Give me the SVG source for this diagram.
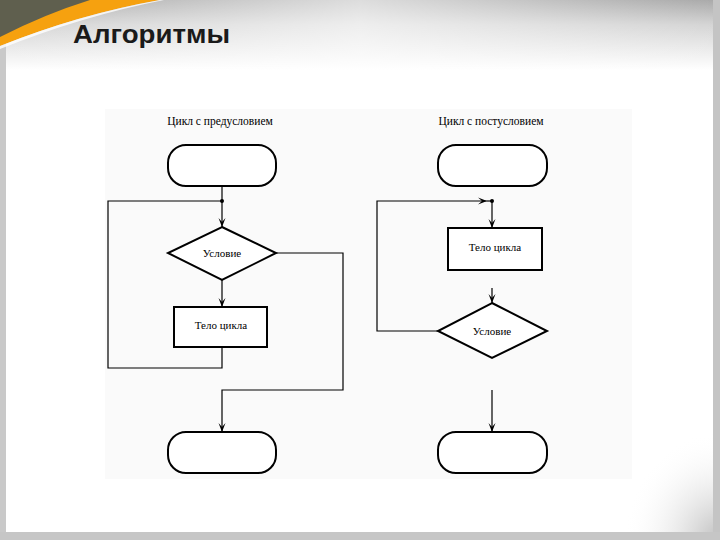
<svg xmlns="http://www.w3.org/2000/svg" width="720" height="540" viewBox="0 0 720 540">
<defs>
<linearGradient id="topg" x1="0" y1="0" x2="0" y2="1">
<stop offset="0" stop-color="#a9a9a9"/>
<stop offset="0.35" stop-color="#d4d4d4"/>
<stop offset="1" stop-color="#ffffff"/>
</linearGradient>
<linearGradient id="topfade" x1="0" y1="0" x2="1" y2="0">
<stop offset="0" stop-color="#ffffff" stop-opacity="0"/>
<stop offset="0.5" stop-color="#ffffff" stop-opacity="0.6"/>
<stop offset="1" stop-color="#ffffff" stop-opacity="0"/>
</linearGradient>
<radialGradient id="corner" cx="1" cy="1" r="1">
<stop offset="0" stop-color="#bdbdbd"/>
<stop offset="0.6" stop-color="#ffffff" stop-opacity="0"/>
</radialGradient>
<marker id="arr" viewBox="-10 -5 11 10" refX="0" refY="0" markerWidth="11" markerHeight="10" markerUnits="userSpaceOnUse" orient="auto">
<path d="M-9,-3.5 L0,0 L-9,3.5 L-5,0 Z" fill="#000"/>
</marker>
<style>
.shape{fill:#ffffff;stroke:#000;stroke-width:2}
.con{fill:none;stroke:#000;stroke-width:1.2}
.lbl{font-family:"Liberation Serif","Times New Roman",serif;font-size:11px;fill:#000;text-anchor:middle}
.ttl{font-family:"Liberation Serif","Times New Roman",serif;font-size:11.5px;fill:#000;text-anchor:middle}
</style>
</defs>
<!-- slide background -->
<rect x="0" y="0" width="720" height="540" fill="#ffffff"/>
<rect x="0" y="0" width="720" height="70" fill="url(#topg)"/>
<rect x="0" y="0" width="720" height="70" fill="url(#topfade)"/>
<rect x="560" y="360" width="160" height="180" fill="url(#corner)"/>
<rect x="0" y="0" width="6" height="540" fill="#c9c9c9"/>
<rect x="713" y="0" width="7" height="540" fill="#c4c4c4"/>
<rect x="0" y="532" width="720" height="8" fill="#c6c6c6"/>
<path d="M0,0 H160 Q80,14 0,46 Z" fill="#f6a10f"/>
<path d="M0,0 H90 Q45,14 0,37 Z" fill="#5f5f4e"/>
<path d="M0,46 Q80,14 160,0 L164,0 Q82,16 0,49 Z" fill="#ffffff" opacity="0.8"/>
<text x="73" y="43" font-family="Liberation Sans, Arial, sans-serif" font-weight="bold" font-size="25" textLength="157" lengthAdjust="spacingAndGlyphs" fill="#1a1a1a">Алгоритмы</text>
<!-- diagram panel -->
<rect x="105" y="109" width="527" height="370" fill="#fafafa"/>
<text class="ttl" x="220" y="125">Цикл с предусловием</text>
<text class="ttl" x="491" y="125">Цикл с постусловием</text>
<!-- connectors -->
<g id="connectors">
<path class="con" d="M222,187 V227" marker-end="url(#arr)"/>
<path class="con" d="M222,280 V307" marker-end="url(#arr)"/>
<path class="con" d="M222,347 V368 H108 V201 H222"/>
<path class="con" d="M276,253 H343 V390 H222 V432" marker-end="url(#arr)"/>
<circle cx="222" cy="201" r="2" fill="#000"/>
<path class="con" d="M438,331 H377 V201 H487" marker-end="url(#arr)"/>
<path class="con" d="M487,201 H492"/>
<circle cx="492" cy="201" r="2" fill="#000"/>
<path class="con" d="M492,201 V228" marker-end="url(#arr)"/>
<path class="con" d="M492,288 V303" marker-end="url(#arr)"/>
<path class="con" d="M492,390 V432" marker-end="url(#arr)"/>
</g>
<!-- left flowchart -->
<g id="start1"><rect class="shape" x="168" y="145" width="108" height="41" rx="18" ry="18"/></g>
<g id="cond1"><polygon class="shape" points="222,227 276,253 222,280 168,253"/><text class="lbl" x="222" y="257">Условие</text></g>
<g id="body1"><rect class="shape" x="174" y="307" width="93" height="40"/><text class="lbl" x="221" y="329">Тело цикла</text></g>
<g id="end1"><rect class="shape" x="168" y="432" width="108" height="41" rx="18" ry="18"/></g>
<!-- right flowchart -->
<g id="start2"><rect class="shape" x="438" y="145" width="109" height="41" rx="18" ry="18"/></g>
<g id="body2"><rect class="shape" x="448" y="228" width="94" height="42"/><text class="lbl" x="495" y="251">Тело цикла</text></g>
<g id="cond2"><polygon class="shape" points="492,303 547,331 492,358 438,331"/><text class="lbl" x="492" y="335">Условие</text></g>
<g id="end2"><rect class="shape" x="438" y="432" width="109" height="41" rx="18" ry="18"/></g>
</svg>
